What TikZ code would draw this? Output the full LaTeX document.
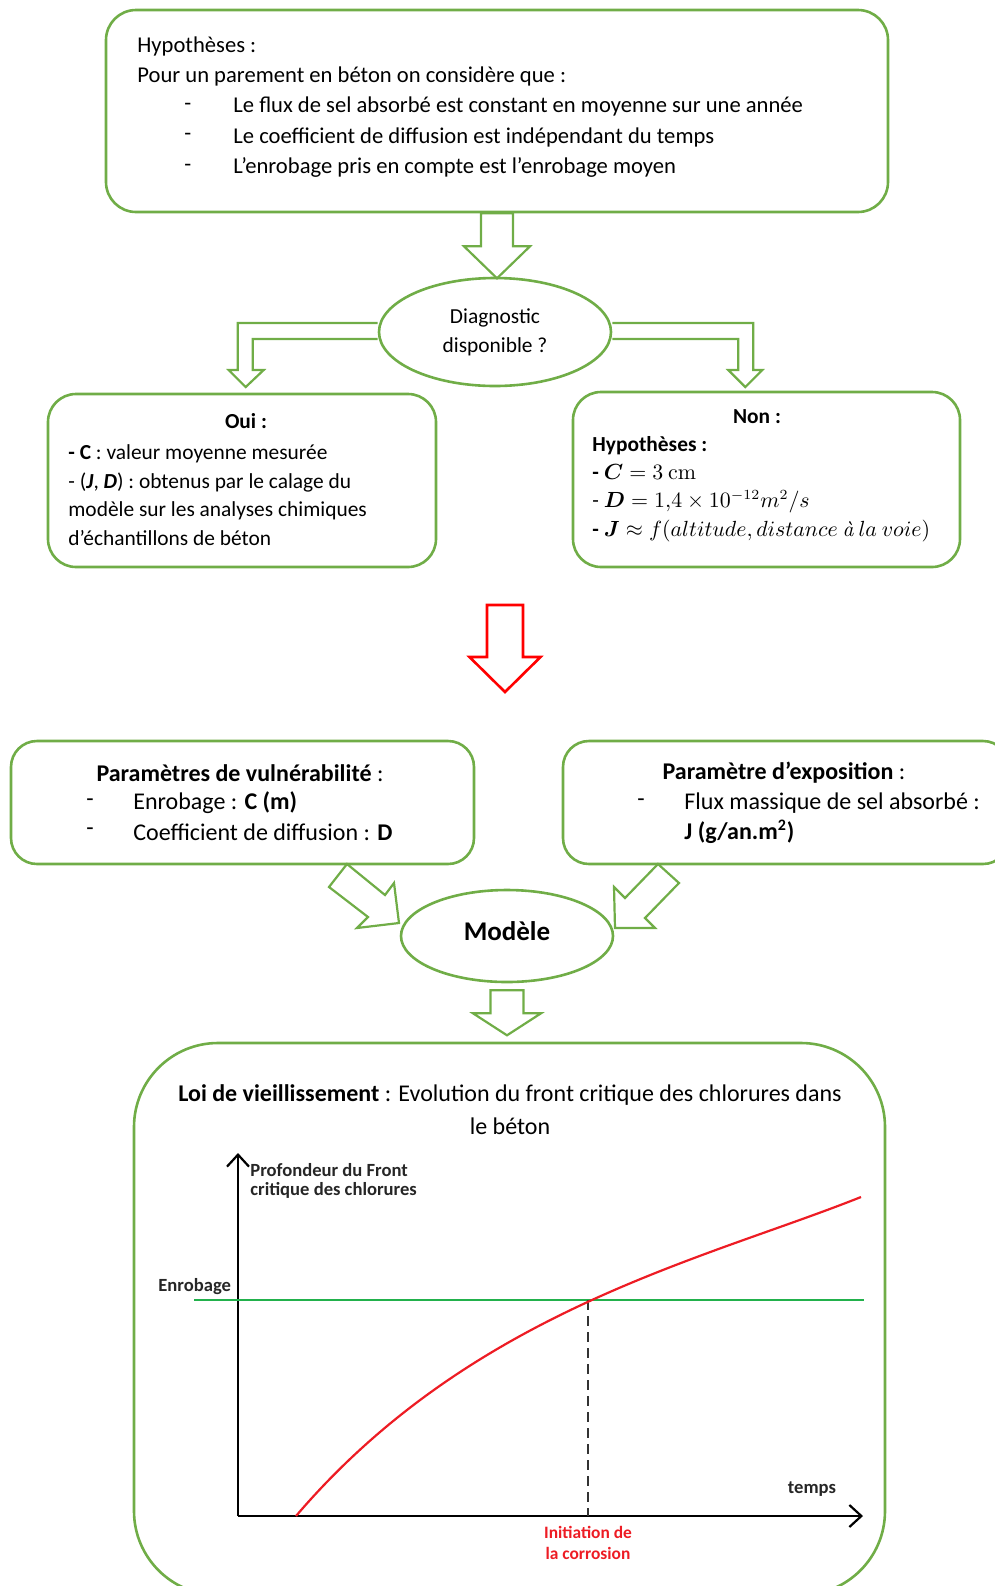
\documentclass[tikz,border=0pt]{standalone}
\usepackage{amsmath,bm}
\usepackage[no-math]{fontspec}
\setmainfont{Carlito}
\usetikzlibrary{calc,arrows.meta,shapes.geometric}

\definecolor{vert}{RGB}{112,173,71}
\definecolor{vertligne}{RGB}{34,177,76}
\definecolor{rouge}{RGB}{255,0,0}
\definecolor{courbe}{RGB}{237,28,36}

% fleche bloc vers le bas : depart, demi-fut, demi-tete, debut tete, pointe, style
\newcommand{\flechebas}[6]{%
  \draw[#6, shift={#1}] (-#2,0) -- (-#2,#4) -- (-#3,#4) -- (0,#5) -- (#3,#4) -- (#2,#4) -- (#2,0) -- cycle;}
\newcommand{\agrave}{\text{\fontfamily{lmr}\selectfont\itshape à}}

\tikzset{
  boite/.style={draw=vert, line width=1.3pt, rounded corners=15pt, inner sep=0},
  bulle/.style={ellipse, draw=vert, line width=1.3pt, inner sep=0},
  fleche/.style={draw=vert, line width=1.1pt, line join=miter},
  txt/.style={anchor=west, inner sep=0, font=\fontsize{11.3}{13}\selectfont},
  txtb/.style={txt, font=\fontsize{10.7}{13}\selectfont},
  txtm/.style={txtb, text height=7pt, text depth=2pt},
  txtc/.style={txt, font=\fontsize{12}{14}\selectfont},
  titre/.style={inner sep=0, font=\fontsize{10.7}{13}\selectfont\bfseries},
  lbl/.style={inner sep=0, font=\fontsize{9.3}{11}\selectfont\bfseries, text=black!85},
}

\begin{document}
\begin{tikzpicture}[x=0.5pt,y=-0.5pt]
            \useasboundingbox (0,0) rectangle (995,1586);
            \clip (0,0) rectangle (995,1586);

            % hypotheses
            \node[boite, minimum width=391pt, minimum height=101pt] (hyp) at (497,111) {};
            \node[txt] (h1) at (137,46) {Hypothèses :};
            \node[txt] (h2) at (137,76) {Pour un parement en béton on considère que :};
            \foreach \t [count=\i] in {Le flux de sel absorbé est constant en moyenne sur une année,
                                       Le coefficient de diffusion est indépendant du temps,
                                       L’enrobage pris en compte est l’enrobage moyen}{
                \node[txt] at (184,{76+30.5*\i}) {-};
                \node[txt] (hl\i) at (233,{76+30.5*\i}) {\t};
            }

            \node[bulle, minimum width=116pt, minimum height=54pt, align=center,
                  font=\fontsize{10.7}{14.5}\selectfont] (diag) at (495,332) {Diagnostic\\disponible ?};
            \flechebas{(hyp.south)}{16}{33}{33}{65}{fleche}

            % branches oui / non
            \draw[fleche, shift={(diag.west)}] (0,-9) -- (-140,-9) -- (-140,38) -- (-149,38) -- (-132,55)
                -- (-114,38) -- (-125,38) -- (-125,7) -- (0,7);
            \draw[fleche, shift={(diag.east)}] (0,-9) -- (141,-9) -- (141,38) -- (150,38) -- (133,55)
                -- (116,38) -- (126,38) -- (126,7) -- (0,7);

            \node[boite, rounded corners=14pt, minimum width=194pt, minimum height=86.5pt] (oui) at (242,480.5) {};
            \node[titre] (ouit) at (246,421) {Oui :};
            \node[txtb] (o1) at (68,454) {\textbf{- C} : valeur moyenne mesurée};
            \node[txtb] (o2) at (68,483) {- (\textbf{\textit{J}}, \textbf{\textit{D}}) : obtenus par le calage du};
            \node[txtb] (o3) at (68,511) {modèle sur les analyses chimiques};
            \node[txtb] (o4) at (68,538) {d’échantillons de béton};

            \node[boite, rounded corners=14pt, minimum width=193.5pt, minimum height=87.5pt] (non) at (766.5,479.5) {};
            \node[titre] (nont) at (757,417) {Non :};
            \node[txtb] (n1) at (592,446) {\textbf{Hypothèses :}};
            \node[txtm] (n2) at (592,474) {\textbf{-} $\bm{C} = 3\ \mathrm{cm}$};
            \node[txtm] (n3) at (592,502) {- $\bm{D} = 1{,}4\times 10^{-12}m^2/s$};
            \node[txtm] (n4) at (592,531) {\textbf{-} $\bm{J} \approx f(altitude, distance\ \agrave\ la\ voie)$};

            % vers le modele
            \coordinate (r) at (505,605);
            \flechebas{(r)}{18}{35.5}{52}{87}{draw=rouge, line width=1.3pt, line join=miter}

            \node[boite, rounded corners=13pt, minimum width=231.5pt, minimum height=61.5pt] (vuln) at (242.5,802.5) {};
            \node[txtc, anchor=center] (vt) at (240,773) {\textbf{Paramètres de vulnérabilité} :};
            \node[txtc] at (86,803) {-};
            \node[txtc] (v1) at (133,803) {Enrobage : \textbf{C (m)}};
            \node[txtc] at (86,832) {-};
            \node[txtc] (v2) at (133,832) {Coefficient de diffusion : \textbf{D}};

            \node[boite, rounded corners=13pt, minimum width=223pt, minimum height=61.5pt] (expo) at (786,802.5) {};
            \node[txtc, anchor=center] (et) at (784,773) {\textbf{Paramètre d’exposition} :};
            \node[txtc] at (637,803) {-};
            \node[txtc] (e1) at (684,803) {Flux massique de sel absorbé :};
            \node[txtc] (e2) at (684,832) {\textbf{J (g/an.m\textsuperscript{2})}};

            \node[bulle, minimum width=106pt, minimum height=46pt] (modele) at (507,936) {};
            \node[inner sep=0, font=\fontsize{13.5}{15}\selectfont\bfseries] (mt) at (507,931) {Modèle};

            \draw[fleche] (347,864) -- (329,887) -- (368,917) -- (357,928) -- (399,923) -- (394,883) -- (385,895) -- cycle;
            \draw[fleche] (658,864) -- (679,883) -- (645,918) -- (655,928) -- (615,928) -- (614,887) -- (625,898) -- cycle;
            \flechebas{($(modele.south)+(0,7)$)}{16.5}{34}{23}{45}{fleche}

            % loi de vieillissement
            \node[boite, rounded corners=42pt, minimum width=375.5pt, minimum height=276pt] (loi) at (509.5,1319) {};
            \node[txtc, anchor=center] (lt1) at (510,1095)
                {\textbf{Loi de vieillissement} : Evolution du front critique des chlorures dans};
            \node[txtc, anchor=center] (lt2) at (510,1126) {le béton};

            \coordinate (O) at (238,1516);
            \coordinate (ymax) at (238,1153);
            \coordinate (xmax) at (863,1516);
            \coordinate (I) at (588,1300);
            \draw[line width=1.2pt, -{Straight Barb[length=6pt,width=11pt,line width=1.1pt]}] (O) -- (ymax);
            \draw[line width=1.2pt, -{Straight Barb[length=6pt,width=11pt,line width=1.1pt]}] (O) -- (xmax);
            \draw[vertligne, line width=1.1pt] (194,1300) -- (864,1300);
            \draw[black!80, line width=0.6pt, dash pattern=on 5pt off 3pt] (I) -- (I |- O);
            \draw[courbe, line width=1.1pt] (296,1516) .. controls (471,1311) and (703,1260) .. (861,1197);

            \node[lbl, anchor=west] (p1) at (250,1170) {Profondeur du Front};
            \node[lbl, anchor=west] (p2) at (250,1190) {critique des chlorures};
            \node[lbl, anchor=west] (enr) at (158,1287) {Enrobage};
            \node[lbl] (tps) at (812,1489) {temps};
            \node[lbl, text=courbe, font=\fontsize{8.7}{10}\selectfont\bfseries] (ini1) at (588,1532) {Initiation de};
            \node[lbl, text=courbe, font=\fontsize{8.7}{10}\selectfont\bfseries] (ini2) at (588,1553) {la corrosion};
        \end{tikzpicture}
\end{document}
